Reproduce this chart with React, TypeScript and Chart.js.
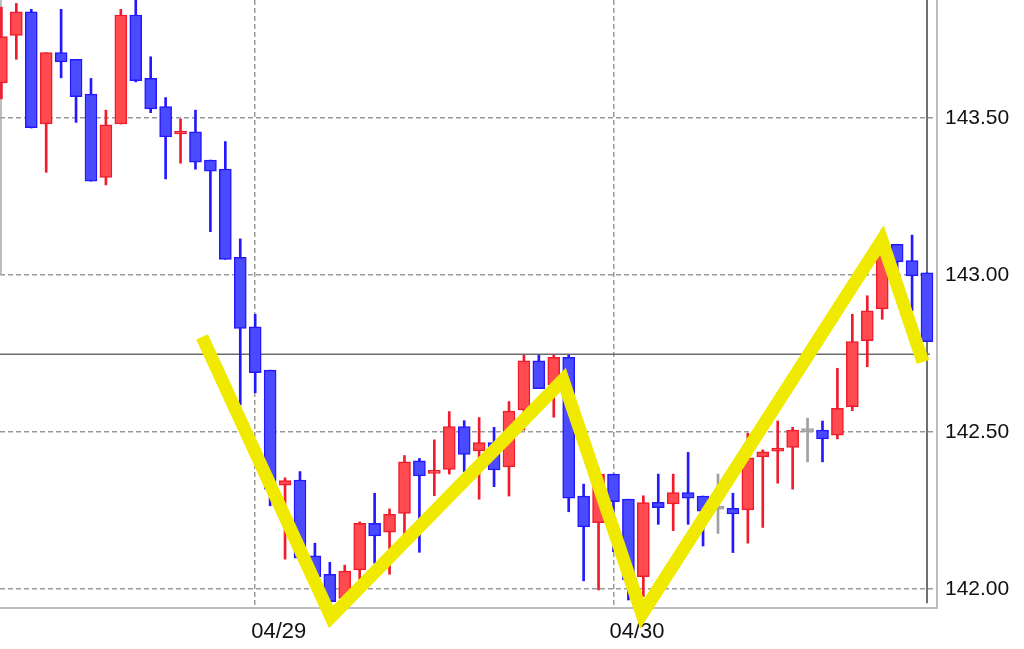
import React, { useEffect, useRef } from 'react';
import { Chart, registerables } from 'chart.js';

Chart.register(...registerables);

// ---- data ----
const dateLabels = ['04/29', '04/30'];
const dateTickIndex = [17, 41];
const yTicks = [142.0, 142.5, 143.0, 143.5];

const opens = [
  143.612, 143.763, 143.838, 143.481, 143.708, 143.687, 143.576, 143.311, 143.481, 143.828,
  143.626, 143.536, 143.449, 143.456, 143.366, 143.337, 143.056, 142.835, 142.697, 142.331,
  142.347, 142.106, 142.047, 141.970, 142.061, 142.209, 142.181, 142.241, 142.408, 142.368,
  142.381, 142.517, 142.440, 142.466, 142.389, 142.570, 142.727, 142.650, 142.738, 142.296,
  142.211, 142.366, 142.286, 142.039, 142.276, 142.271, 142.307, 142.296, 142.254, 142.257,
  142.252, 142.421, 142.439, 142.451, 142.501, 142.506, 142.490, 142.581, 142.791, 142.892,
  143.098, 143.046, 143.007,
];
const highs = [
  143.853, 143.865, 143.846, 143.708, 143.846, 143.687, 143.626, 143.525, 143.846, 143.880,
  143.695, 143.565, 143.497, 143.525, 143.366, 143.425, 143.115, 142.875, 142.697, 142.354,
  142.374, 142.146, 142.085, 142.076, 142.214, 142.305, 142.255, 142.425, 142.416, 142.475,
  142.565, 142.536, 142.546, 142.515, 142.597, 142.745, 142.745, 142.745, 142.745, 142.334,
  142.384, 142.366, 142.286, 142.297, 142.366, 142.366, 142.435, 142.296, 142.366, 142.305,
  142.496, 142.443, 142.535, 142.515, 142.544, 142.535, 142.703, 142.875, 142.934, 143.146,
  143.098, 143.127, 143.007,
];
const lows = [
  143.561, 143.687, 143.468, 143.327, 143.628, 143.486, 143.299, 143.287, 143.481, 143.615,
  143.517, 143.306, 143.356, 143.337, 143.138, 143.050, 142.586, 142.625, 142.265, 142.095,
  142.098, 142.039, 141.955, 141.960, 142.029, 142.082, 142.047, 142.130, 142.117, 142.297,
  142.366, 142.374, 142.286, 142.326, 142.296, 142.506, 142.638, 142.547, 142.246, 142.026,
  141.997, 142.119, 141.965, 141.976, 142.206, 142.186, 142.206, 142.137, 142.177, 142.116,
  142.146, 142.196, 142.337, 142.318, 142.405, 142.405, 142.478, 142.568, 142.708, 142.859,
  143.007, 142.886, 142.788,
];
const closes = [
  143.759, 143.838, 143.469, 143.708, 143.679, 143.568, 143.299, 143.478, 143.828, 143.619,
  143.529, 143.440, 143.456, 143.359, 143.331, 143.050, 142.830, 142.689, 142.318, 142.345,
  142.098, 142.039, 141.960, 142.057, 142.209, 142.169, 142.238, 142.405, 142.360, 142.377,
  142.517, 142.429, 142.466, 142.379, 142.567, 142.727, 142.638, 142.738, 142.289, 142.198,
  142.366, 142.278, 142.029, 142.275, 142.259, 142.307, 142.289, 142.248, 142.254, 142.239,
  142.418, 142.437, 142.448, 142.506, 142.501, 142.478, 142.575, 142.788, 142.886, 143.080,
  143.042, 142.997, 142.788,
];

const priceLine = 142.748;
const lastIndex = 62;

const zigzagX = [13.44, 22.08, 37.62, 42.91, 58.98, 61.73];
const zigzagY = [142.803, 141.911, 142.666, 141.92, 143.111, 142.723];

// ---- styles ----
const UP_FILL = '#FF4A4F';
const UP_LINE = '#F01C2C';
const DN_FILL = '#4A4AFF';
const DN_LINE = '#2418FF';
const DOJI = '#A0A0A0';
const FONT = '"Liberation Sans", Arial, Helvetica, sans-serif';

function kind(i: number) {
  if (closes[i] > opens[i]) return 'up';
  if (closes[i] < opens[i]) return 'down';
  return 'doji';
}

const edgePlugin = {
  id: 'leftEdge',
  beforeDatasetsDraw(chart: any) {
    const { ctx, chartArea, scales } = chart;
    const yb = scales.y.getPixelForValue(143.0);
    ctx.save();
    ctx.strokeStyle = '#a8a8a8';
    ctx.lineWidth = 1.5;
    ctx.beginPath();
    ctx.moveTo(chartArea.left + 1, chartArea.top);
    ctx.lineTo(chartArea.left + 1, yb);
    ctx.stroke();
    ctx.restore();
  },
};

function zeroPad(s: any) {
  s.paddingTop = 0;
  s.paddingBottom = 0;
  s.paddingLeft = 0;
  s.paddingRight = 0;
}

export default function App() {
  const ref = useRef<HTMLCanvasElement | null>(null);

  useEffect(() => {
    document.body.style.margin = '0';
    if (!ref.current) return;
    const idx = opens.map((_, i) => i);
    const chart = new Chart(ref.current, {
      type: 'bar',
      data: {
        datasets: [
          {
            type: 'line',
            data: zigzagX.map((x, i) => ({ x, y: zigzagY[i] })),
            borderColor: '#F0EA00',
            borderWidth: 13,
            borderJoinStyle: 'miter',
            borderCapStyle: 'butt',
            pointRadius: 0,
            tension: 0,
            clip: false,
            order: -1,
          } as any,
          {
            type: 'bar',
            data: idx.map((i) => ({ x: i, y: [opens[i], closes[i]] })),
            backgroundColor: idx.map((i) => (kind(i) === 'up' ? UP_FILL : kind(i) === 'down' ? DN_FILL : DOJI)),
            borderColor: idx.map((i) => (kind(i) === 'up' ? UP_LINE : kind(i) === 'down' ? DN_LINE : DOJI)),
            borderWidth: 1.5,
            borderSkipped: false,
            barThickness: 12,
            minBarLength: 3,
            grouped: false,
            order: 0,
          } as any,
          {
            type: 'bar',
            data: idx.map((i) => ({ x: i, y: [lows[i], highs[i]] })),
            backgroundColor: idx.map((i) => (kind(i) === 'up' ? UP_LINE : kind(i) === 'down' ? DN_LINE : DOJI)),
            borderWidth: 0,
            barThickness: 2,
            grouped: false,
            order: 1,
          } as any,
          {
            type: 'line',
            data: [
              { x: -2, y: priceLine },
              { x: lastIndex + 0.2, y: priceLine },
            ],
            borderColor: '#6c6c6c',
            borderWidth: 1.5,
            pointRadius: 0,
            order: 2,
          } as any,
          {
            type: 'line',
            data: [
              { x: lastIndex, y: 141.955 },
              { x: lastIndex, y: 144.5 },
            ],
            borderColor: '#707070',
            borderWidth: 2,
            pointRadius: 0,
            order: 3,
          } as any,
        ],
      },
      options: {
        animation: false,
        responsive: false,
        devicePixelRatio: 1,
        layout: { padding: 0, autoPadding: false } as any,
        plugins: { legend: { display: false }, tooltip: { enabled: false } },
        scales: {
          x: {
            type: 'linear',
            min: -0.0938,
            max: 62.67,
            offset: false,
            grid: {
              offset: false,
              color: '#9a9a9a',
              lineWidth: 1.5,
              drawTicks: false,
            },
            border: { display: true, color: '#bdbdbd', width: 2, dash: [5, 3] },
            ticks: {
              align: 'start',
              padding: 11,
              labelOffset: -4,
              color: '#111',
              font: { size: 22, family: FONT },
              maxRotation: 0,
              autoSkip: false,
              callback: (v: any) => {
                const k = dateTickIndex.indexOf(Math.round(Number(v)));
                return k >= 0 ? dateLabels[k] : '';
              },
            },
            afterBuildTicks: (s: any) => {
              s.ticks = dateTickIndex.map((value) => ({ value }));
            },
            afterFit: (s: any) => {
              s.height = 41;
              zeroPad(s);
            },
          } as any,
          y: {
            type: 'linear',
            position: 'right',
            min: 141.9395,
            max: 143.8758,
            beginAtZero: false,
            grid: {
              color: '#9a9a9a',
              lineWidth: 1.5,
              drawTicks: false,
            },
            border: { display: true, color: '#bdbdbd', width: 2, dash: [5, 3] },
            ticks: {
              padding: 8,
              color: '#111',
              font: { size: 21, family: FONT },
              callback: (v: any) => Number(v).toFixed(2),
            },
            afterBuildTicks: (s: any) => {
              s.ticks = yTicks.map((value) => ({ value }));
            },
            afterFit: (s: any) => {
              s.width = 87;
              zeroPad(s);
            },
          } as any,
        },
      },
      plugins: [edgePlugin],
    });
    return () => chart.destroy();
  }, []);

  return (
    <div style={{ position: 'absolute', left: 0, top: 0, width: 1024, height: 649, background: '#fff' }}>
      <canvas ref={ref} width={1024} height={649} style={{ display: 'block', width: 1024, height: 649 }} />
    </div>
  );
}
